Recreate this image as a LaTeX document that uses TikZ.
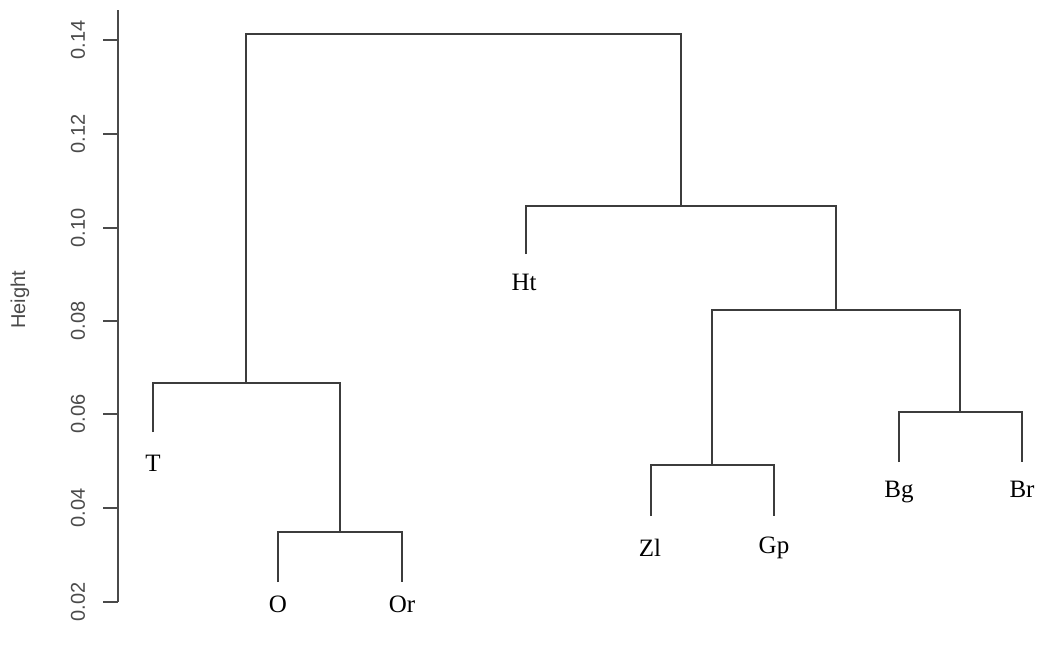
\documentclass[tikz,border=0pt]{standalone}
\usepackage{fontspec}
\setmainfont{Liberation Serif}
\newfontfamily\axfont{Liberation Sans}
\definecolor{linec}{HTML}{3C3C3C}
\definecolor{axc}{HTML}{4A4A4A}
\begin{document}
\begin{tikzpicture}[x=1pt,y=-1pt,
  branch/.style={draw=linec,line width=1.6pt},
  leaflab/.style={font=\fontsize{25}{27}\selectfont,text=black,inner sep=0pt,anchor=base},
  ticklab/.style={font=\axfont\fontsize{20}{22}\selectfont,text=axc,rotate=90,inner sep=0pt},
  axline/.style={draw=axc,line width=1.4pt}]
\useasboundingbox (0,0) rectangle (1044,648);
\fill[white] (0,0) rectangle (1044,648);
% axis
\coordinate (axtop) at (118,10);
\coordinate (axbot) at (118,602);
\draw[axline] (axtop) -- (axbot);
\foreach \v/\yy in {0.14/40,0.12/134,0.10/228,0.08/321,0.06/414,0.04/508,0.02/602}{
  \draw[axline] (103,\yy) -- (118,\yy);
  \node[ticklab] at (78,\yy) {\v};
}
\node[ticklab] (ylab) at (20,300) {Height};
% leaf labels (base positions)
\node[leaflab] (T) at (153,471) {T};
\node[leaflab] (O) at (278,612) {O};
\node[leaflab] (Or) at (402,612) {Or};
\node[leaflab] (Ht) at (524,290) {Ht};
\node[leaflab] (Zl) at (650,556) {Zl};
\node[leaflab] (Gp) at (774,553) {Gp};
\node[leaflab] (Bg) at (899,497) {Bg};
\node[leaflab] (Br) at (1022,497) {Br};
% leaf tops
\coordinate (tT) at (153,432);
\coordinate (tO) at (278,582);
\coordinate (tOr) at (402,582);
\coordinate (tHt) at (526,254);
\coordinate (tZl) at (651,516);
\coordinate (tGp) at (774,516);
\coordinate (tBg) at (899,462);
\coordinate (tBr) at (1022,462);
% merges
\coordinate (mOOr) at (340,532);
\coordinate (mT) at (246,383);
\coordinate (mZG) at (712,465);
\coordinate (mBB) at (960,412);
\coordinate (mZB) at (836,310);
\coordinate (mH) at (681,206);
\coordinate (mTop) at (463,34);
\draw[branch] (tO) |- (mOOr) -| (tOr);
\draw[branch] (tT) |- (mT) -| (mOOr);
\draw[branch] (tZl) |- (mZG) -| (tGp);
\draw[branch] (tBg) |- (mBB) -| (tBr);
\draw[branch] (mZG) |- (mZB) -| (mBB);
\draw[branch] (tHt) |- (mH) -| (mZB);
\draw[branch] (mT) |- (mTop) -| (mH);
\end{tikzpicture}
\end{document}
